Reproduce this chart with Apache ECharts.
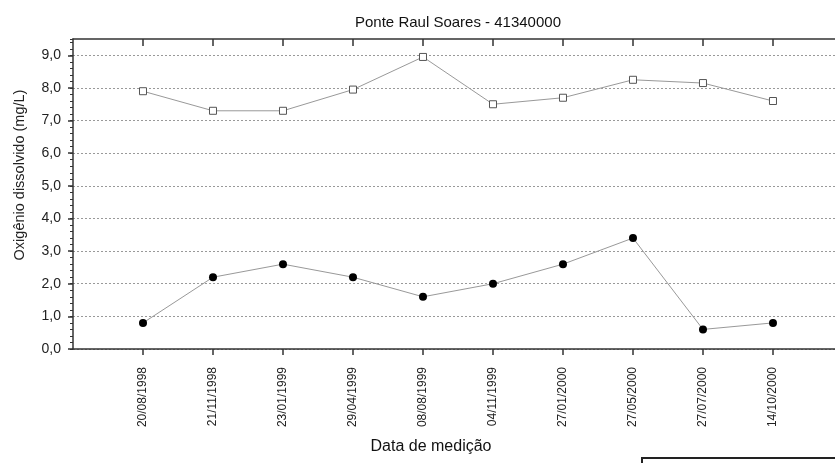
<!DOCTYPE html>
<html>
<head>
<meta charset="utf-8">
<script src="https://cdn.jsdelivr.net/npm/echarts@6/dist/echarts.min.js"></script>
<style>
  html, body { margin: 0; padding: 0; background: #fff; }
  #chart { width: 835px; height: 463px; }
</style>
</head>
<body>
<div id="chart"></div>
<script>
// Sampling dates (category labels along the x axis)
const datas = ['20/08/1998', '21/11/1998', '23/01/1999', '29/04/1999', '08/08/1999',
               '04/11/1999', '27/01/2000', '27/05/2000', '27/07/2000', '14/10/2000'];
// Upper series (hollow squares), mg/L
const serieQuadrados = [7.9, 7.3, 7.3, 7.95, 8.95, 7.5, 7.7, 8.25, 8.15, 7.6];
// Lower series (filled circles), mg/L
const serieCirculos = [0.8, 2.2, 2.6, 2.2, 1.6, 2.0, 2.6, 3.4, 0.6, 0.8];
// Y tick values
const yTicks = [0, 1, 2, 3, 4, 5, 6, 7, 8, 9];

const FONT = 'Liberation Sans, Arial, sans-serif';
const xIdx = datas.map((d, i) => i);

const chart = echarts.init(document.getElementById('chart'), null, { renderer: 'canvas' });

const xCommon = {
  type: 'value',
  min: -1,
  max: 9.886,
  interval: 1,
  splitLine: { show: false },
  axisLine: { show: true, onZero: false, lineStyle: { color: '#333', width: 1.5 } }
};

chart.setOption({
  animation: false,
  backgroundColor: '#fff',
  title: {
    text: 'Ponte Raul Soares - 41340000',
    left: 453,
    top: 10,
    textAlign: 'center',
    textStyle: { fontFamily: FONT, fontSize: 15, fontWeight: 'normal', color: '#111' }
  },
  grid: { left: 73, right: 0, top: 39, bottom: 114, containLabel: false },
  xAxis: [
    Object.assign({}, xCommon, {
      position: 'bottom',
      axisTick: { show: true, inside: false, length: 6, customValues: xIdx,
                  lineStyle: { color: '#333', width: 1.5 } },
      axisLabel: {
        show: true,
        customValues: xIdx,
        rotate: 90,
        margin: 18,
        fontFamily: FONT,
        fontSize: 12,
        color: '#222',
        formatter: v => datas[Math.round(v)] || ''
      }
    }),
    Object.assign({}, xCommon, {
      position: 'top',
      axisTick: { show: true, inside: true, length: 7, customValues: xIdx,
                  lineStyle: { color: '#333', width: 1.5 } },
      axisLabel: { show: false }
    })
  ],
  yAxis: [
    {
      type: 'value',
      position: 'left',
      min: 0,
      max: 9.5,
      interval: 1,
      axisLine: { show: true, onZero: false, lineStyle: { color: '#333', width: 1.5 } },
      axisTick: { show: true, inside: false, length: 5, customValues: yTicks,
                  lineStyle: { color: '#333', width: 1.5 } },
      axisLabel: {
        customValues: yTicks,
        margin: 12,
        fontFamily: FONT,
        fontSize: 14,
        color: '#222',
        formatter: v => v.toFixed(1).replace('.', ',')
      },
      splitLine: {
        show: true,
        lineStyle: { color: '#999', type: [2, 2], width: 1 }
      }
    },
    {
      // minor ticks every 0.2 on the left axis
      type: 'value',
      position: 'left',
      min: 0,
      max: 9.5,
      interval: 0.2,
      axisLine: { show: false, onZero: false },
      axisTick: { show: true, inside: false, length: 3, lineStyle: { color: '#333', width: 1 } },
      axisLabel: { show: false },
      splitLine: { show: false }
    }
  ],
  graphic: [
    {
      type: 'text',
      x: 20, y: 175,
      rotation: Math.PI / 2,
      style: {
        text: 'Oxigênio dissolvido (mg/L)',
        fontFamily: FONT, fontSize: 14.5, fill: '#222',
        textAlign: 'center', textVerticalAlign: 'middle'
      }
    },
    {
      type: 'text',
      x: 431, y: 447,
      style: {
        text: 'Data de medição',
        fontFamily: FONT, fontSize: 16, fill: '#111',
        textAlign: 'center', textVerticalAlign: 'middle'
      }
    },
    {
      type: 'rect',
      shape: { x: 642, y: 458, width: 210, height: 30 },
      style: { fill: '#fff', stroke: '#222', lineWidth: 2 }
    }
  ],
  series: [
    {
      type: 'line',
      xAxisIndex: 0, yAxisIndex: 0,
      data: serieQuadrados.map((v, i) => [i, v]),
      symbol: 'rect',
      symbolSize: 7,
      lineStyle: { color: '#999', width: 1 },
      itemStyle: { color: '#fff', borderColor: '#555', borderWidth: 1 }
    },
    {
      type: 'line',
      xAxisIndex: 0, yAxisIndex: 0,
      data: serieCirculos.map((v, i) => [i, v]),
      symbol: 'circle',
      symbolSize: 8,
      lineStyle: { color: '#999', width: 1 },
      itemStyle: { color: '#000', borderColor: '#000', borderWidth: 0 }
    }
  ]
});
</script>
</body>
</html>
